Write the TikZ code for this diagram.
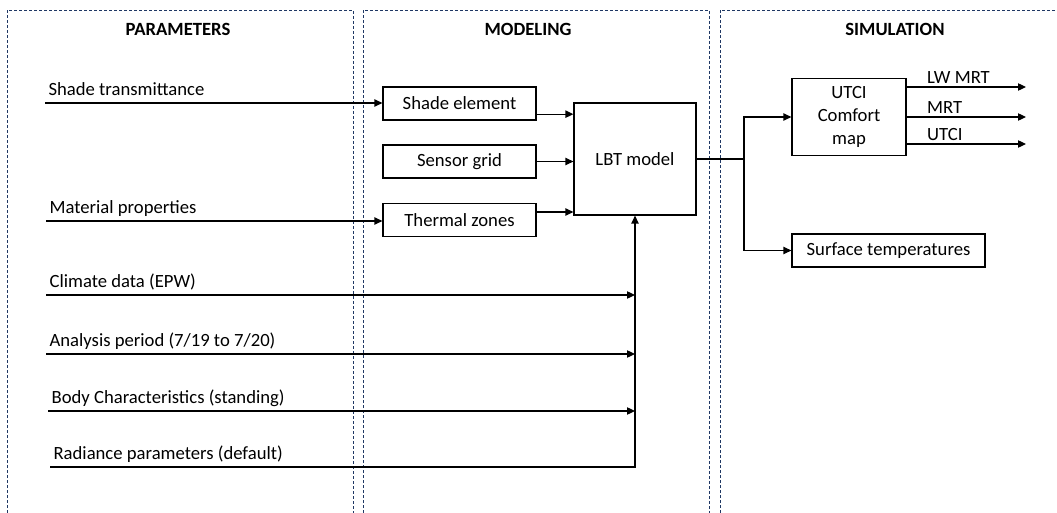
\documentclass[tikz,border=0pt]{standalone}
\usepackage{fontspec}
\setmainfont{Carlito}
\usepackage{tikz}
\usetikzlibrary{shapes}
\usetikzlibrary{arrows.meta}
\definecolor{panelblue}{RGB}{31,56,100}
\tikzset{
	box node/.style={rectangle,draw,inner sep=2pt,align=center,font=\fontsize{14}{17}\selectfont},
	param/.style={anchor=south west,inner xsep=2.25pt,inner ysep=2pt,text depth=0.3em,font=\fontsize{14}{17}\selectfont},
	out label/.style={anchor=south west,inner sep=2pt,xshift=13pt,font=\fontsize{14}{17}\selectfont},
	title/.style={font=\fontsize{14}{17}\selectfont\bfseries},
	panel/.style={-,draw=panelblue,line width=0.7pt,dash pattern=on 2.5pt off 1.25pt}
}

\begin{document}
\begin{tikzpicture}[->,>={Triangle[length=6pt,width=5.5pt]},x=0.75pt,y=-0.75pt,line width=0.9pt]
	\useasboundingbox (0,0) rectangle (1057,513);
	% dashed panels
	\draw[panel] (7,513) |- (353,10) -- (353,513);
	\draw[panel] (363,513) |- (709,10) -- (709,513);
	\draw[panel] (720,513) |- (1057,10);
	\node[title] (tpar) at (178,29) {PARAMETERS};
	\node[title] (tmod) at (528,29) {MODELING};
	\node[title] (tsim) at (895,29) {SIMULATION};
	% modeling
	\node[box node,minimum width=114.75pt,minimum height=24.75pt] (shade) at (459.5,103.5) {Shade element};
	\node[box node,minimum width=114.75pt,minimum height=24.75pt] (sensor) at (459.5,161.5) {Sensor grid};
	\node[box node,minimum width=114.75pt,minimum height=24.75pt] (thermal) at (459.5,220) {Thermal zones};
	\node[box node,minimum width=91.5pt,minimum height=84pt] (lbt) at (635,159) {LBT model};
	% simulation
	\node[box node,minimum width=85.5pt,minimum height=57.75pt] (utci) at (849,117) {UTCI\\Comfort\\map};
	\node[box node,minimum width=144.75pt,minimum height=24.75pt] (surf) at (888.5,250.5) {Surface temperatures};
	% parameters
	\node[param] (shtr) at (45,103) {Shade transmittance};
	\node[param] (mat) at (46,221) {Material properties};
	\node[param] (clim) at (46,295) {Climate data (EPW)};
	\node[param] (anal) at (46,354) {Analysis period (7/19 to 7/20)};
	\node[param] (body) at (48,411) {Body Characteristics (standing)};
	\node[param] (rad) at (50,467) {Radiance parameters (default)};
	\draw (shtr.south west) -- (shtr.south west -| shade.west);
	\draw (mat.south west) -- (mat.south west -| thermal.west);
	\foreach \p in {clim,anal,body}
		\draw (\p.south west) -- (\p.south west -| lbt.south);
	\draw (rad.south west) -| (lbt.south);
	\draw ([yshift=-8pt]shade.east) -- ([yshift=-8pt]shade.east -| lbt.west);
	\draw (sensor.east) -- (sensor.east -| lbt.west);
	\draw ([yshift=6pt]thermal.east) -- ([yshift=6pt]thermal.east -| lbt.west);
	% outputs
	\coordinate (split) at (744,159);
	\draw[-] (lbt.east) -- (split);
	\draw (split) |- (utci.west);
	\draw (split) |- (surf.west);
	\coordinate (olw) at (1026,87);
	\coordinate (omrt) at (1026,117);
	\coordinate (outci) at (1026,144);
	\draw (utci.east |- olw) -- node[out label,pos=0] (llw) {LW MRT} (olw);
	\draw (utci.east |- omrt) -- node[out label,pos=0] (lmrt) {MRT} (omrt);
	\draw (utci.east |- outci) -- node[out label,pos=0] (lutci) {UTCI} (outci);
\end{tikzpicture}
\end{document}
